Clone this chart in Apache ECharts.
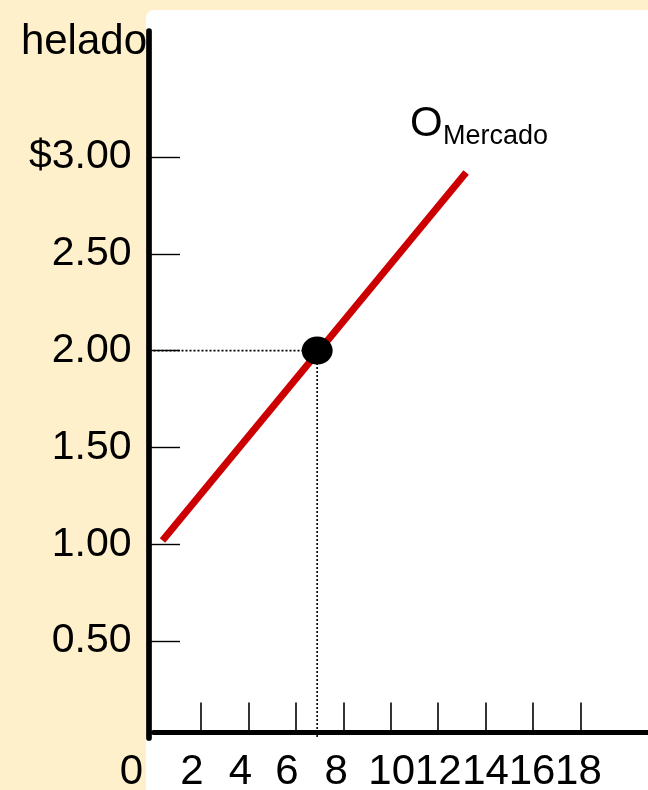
<!DOCTYPE html>
<html>
<head>
<meta charset="utf-8">
<script src="https://cdn.jsdelivr.net/npm/echarts@6/dist/echarts.min.js"></script>
<style>
html,body{margin:0;padding:0;background:#FFF0CC;}
#c{width:648px;height:790px;}
</style>
</head>
<body>
<div id="c"></div>
<script>
// ---- data ----
const supplyQuantity = [0.38, 13.18];
const supplyPrice = [1.02, 2.92];
const equilibriumQuantity = [6.9];
const equilibriumPrice = [2.0];
const yTickValues = [0.5, 1.0, 1.5, 2.0, 2.5, 3.0];
const yTickLabels = ['0.50', '1.00', '1.50', '2.00', '2.50', '$3.00'];
const xTickValues = [2, 4, 6, 8, 10, 12, 14, 16, 18];
const xLabelValues = [0, 2, 4, 6, 8, 10, 12, 14, 16, 18];
const xLabelTexts = ['0', '2', '4', '6', '8', '10', '12', '14', '16', '18'];
const axisTitle = 'helado';
const curveName = 'O';
const curveSub = 'Mercado';

// ---- build ----
const FONT = "'Liberation Sans', Arial, sans-serif";
const supplyData = supplyQuantity.map((q, i) => [q, supplyPrice[i]]);
const eq = [equilibriumQuantity[0], equilibriumPrice[0]];
const guideData = [[0, eq[1]], [eq[0], eq[1]], [eq[0], 0]];

const chart = echarts.init(document.getElementById('c'), null, {renderer: 'canvas'});
const baseGraphics = [
  {type: 'rect', z: -100, shape: {x: 146, y: 10, width: 520, height: 800, r: [8, 0, 0, 0]},
    style: {fill: '#FFFFFF'}},
  {type: 'text', z: 100, style: {text: axisTitle, x: 147, y: 42,
    textAlign: 'right', align: 'right', textVerticalAlign: 'middle', verticalAlign: 'middle',
    fontSize: 42, fontFamily: FONT, fill: '#000'}},
  {type: 'text', z: 100, style: {text: curveName, x: 410, y: 124,
    textAlign: 'left', align: 'left', textVerticalAlign: 'middle', verticalAlign: 'middle',
    fontSize: 42, fontFamily: FONT, fill: '#000'}},
  {type: 'text', z: 100, style: {text: curveSub, x: 443, y: 136.6,
    textAlign: 'left', align: 'left', textVerticalAlign: 'middle', verticalAlign: 'middle',
    fontSize: 27, fontFamily: FONT, fill: '#000'}}
];

chart.setOption({
  backgroundColor: '#FFF0CC',
  animation: false,
  grid: {left: 153.5, top: 31, width: 21 * 23.72, bottom: 52,
    containLabel: false, outerBoundsMode: 'none'},
  xAxis: {
    type: 'value', min: 0, max: 21,
    offset: -5.5, z: 3,
    axisLine: {show: true, onZero: false, lineStyle: {color: '#000', width: 5}},
    axisTick: {show: true, inside: true, length: 30, customValues: xTickValues,
      lineStyle: {color: '#000', width: 1.6}},
    splitLine: {show: false},
    axisLabel: {show: false}
  },
  yAxis: {
    type: 'value', min: 0, max: 3.65,
    offset: 4.5, z: 3,
    axisLine: {show: true, onZero: false, lineStyle: {color: '#000', width: 5.7}},
    axisTick: {show: true, inside: true, length: 31, customValues: yTickValues,
      lineStyle: {color: '#000', width: 1.4}},
    splitLine: {show: false},
    axisLabel: {
      show: true, margin: 17.5, customValues: yTickValues,
      showMinLabel: true, showMaxLabel: true,
      fontSize: 41, fontFamily: FONT, color: '#000',
      formatter: function (v) {
        const i = yTickValues.findIndex(t => Math.abs(t - v) < 1e-6);
        return i < 0 ? '' : yTickLabels[i];
      }
    }
  },
  graphic: baseGraphics,
  series: [
    {
      type: 'line', data: guideData, symbol: 'none', silent: true, clip: false, z: 1,
      lineStyle: {color: '#000', width: 1.6, type: [2, 2]}
    },
    {
      type: 'line', data: supplyData, symbol: 'none', silent: true, clip: false, z: 2,
      lineStyle: {color: '#CC0000', width: 7, cap: 'butt'}
    },
    {
      type: 'scatter', data: [eq], symbol: 'circle', symbolSize: [31, 28], z: 4,
      itemStyle: {color: '#000', opacity: 1}
    }
  ]
});

// x tick labels: placed under the axis through the library's own x scale
const xNudge = [-22, -9, -8, -9, -7, 1, 0, 0, -1, -2];
const axisY = chart.convertToPixel({yAxisIndex: 0}, 0) - 5.5;
const labelGraphics = xLabelValues.map((v, i) => ({
  type: 'text', z: 100,
  style: {
    text: xLabelTexts[i],
    x: chart.convertToPixel({xAxisIndex: 0}, v) + xNudge[i],
    y: axisY + 40,
    textAlign: 'center', align: 'center', textVerticalAlign: 'middle', verticalAlign: 'middle',
    fontSize: 42, fontFamily: FONT, fill: '#000'
  }
}));
chart.setOption({graphic: baseGraphics.concat(labelGraphics)});
</script>
</body>
</html>
